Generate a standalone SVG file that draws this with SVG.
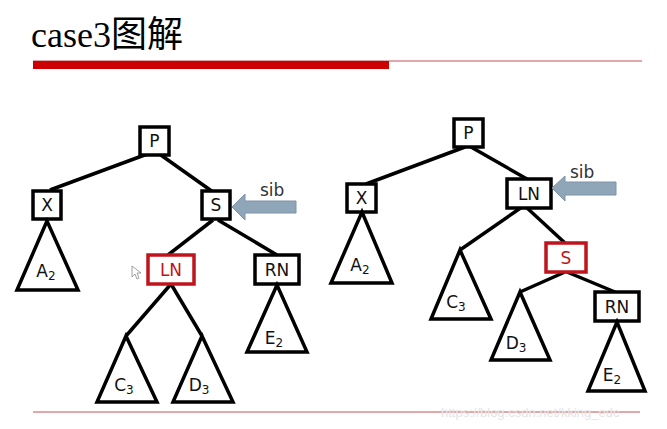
<svg xmlns="http://www.w3.org/2000/svg" width="667" height="429" viewBox="0 0 667 429">
<style>
.bx{fill:#fff;stroke:#000;stroke-width:3.5}
.red{fill:#fff;stroke:#c0141c;stroke-width:3.5}
.tri{fill:#fff;stroke:#000;stroke-width:3.5;stroke-linejoin:miter}
.ln{stroke:#000;stroke-width:3.5;fill:none}
.t{font-family:"DejaVu Sans","Liberation Sans",sans-serif;font-size:17px;fill:#111;text-anchor:middle}
.tr{font-family:"DejaVu Sans","Liberation Sans",sans-serif;font-size:17px;fill:#c0141c;text-anchor:middle}
.s{font-size:12px}
.arr{fill:#8fa6b9;stroke:#7d93a6;stroke-width:1}
.sib{font-family:"DejaVu Sans","Liberation Sans",sans-serif;font-size:17px;fill:#333}
</style>
<rect width="667" height="429" fill="#fff"/>
<g id="title">
<text x="31" y="47" font-family="'Liberation Serif','Noto Sans CJK SC',serif" font-size="36" fill="#000">case3图解</text>
<line x1="33" y1="61" x2="642" y2="61" stroke="#c05050" stroke-width="1"/>
<rect x="33" y="61" width="356" height="8" fill="#cc0000"/>
</g>
<g id="connectors">
<line class="ln" x1="150" y1="153" x2="50" y2="190"/>
<line class="ln" x1="158" y1="153" x2="213" y2="192"/>
<line class="ln" x1="213" y1="220" x2="168" y2="255"/>
<line class="ln" x1="218" y1="220" x2="277" y2="255"/>
<line class="ln" x1="171" y1="284" x2="126" y2="336"/>
<line class="ln" x1="171" y1="284" x2="202" y2="336"/>
<line class="ln" x1="465" y1="147" x2="366" y2="184"/>
<line class="ln" x1="471" y1="147" x2="527" y2="179"/>
<line class="ln" x1="522" y1="207" x2="460" y2="250"/>
<line class="ln" x1="526" y1="207" x2="565" y2="243"/>
<line class="ln" x1="565" y1="272" x2="520" y2="292"/>
<line class="ln" x1="567" y1="272" x2="615" y2="292"/>
</g>
<g id="L_P"><rect class="bx" x="140" y="127" width="29" height="28"/><text class="t" x="154.5" y="147">P</text></g>
<g id="L_X"><rect class="bx" x="33" y="191" width="28" height="28"/><text class="t" x="47" y="211">X</text></g>
<g id="L_S"><rect class="bx" x="202" y="191" width="28" height="28"/><text class="t" x="216" y="211">S</text></g>
<g id="L_LN"><rect class="red" x="148" y="255" width="46" height="29"/><text class="tr" x="171" y="276">LN</text></g>
<g id="L_RN"><rect class="bx" x="255" y="255" width="44" height="29"/><text class="t" x="277" y="276">RN</text></g>
<g id="L_A2"><polygon class="tri" points="47,221 17,290 78,290"/><text class="t" x="46" y="277">A<tspan class="s" dy="3">2</tspan></text></g>
<g id="L_C3"><polygon class="tri" points="126,336 97,402 157,402"/><text class="t" x="124" y="391">C<tspan class="s" dy="3">3</tspan></text></g>
<g id="L_D3"><polygon class="tri" points="202,336 173,402 233,402"/><text class="t" x="199" y="391">D<tspan class="s" dy="3">3</tspan></text></g>
<g id="L_E2"><polygon class="tri" points="277,285 247,352 307,352"/><text class="t" x="274" y="344">E<tspan class="s" dy="3">2</tspan></text></g>
<g id="L_sib"><polygon class="arr" points="232,207 245,194 245,201 296,201 296,213 245,213 245,220"/><text class="sib" x="260" y="196">sib</text></g>
<g id="cursor"><polygon points="132,266 132,277 135,274 137,279 139,278 137,273 141,273" fill="#fff" stroke="#888" stroke-width="0.8"/></g>
<g id="R_P"><rect class="bx" x="454" y="119" width="29" height="28"/><text class="t" x="468.5" y="139">P</text></g>
<g id="R_X"><rect class="bx" x="347" y="184" width="29" height="28"/><text class="t" x="361.5" y="204">X</text></g>
<g id="R_LN"><rect class="bx" x="507" y="179" width="44" height="29"/><text class="t" x="529" y="200">LN</text></g>
<g id="R_S"><rect class="red" x="546" y="243" width="40" height="29"/><text class="tr" x="566" y="264">S</text></g>
<g id="R_RN"><rect class="bx" x="595" y="292" width="44" height="29"/><text class="t" x="617" y="313">RN</text></g>
<g id="R_A2"><polygon class="tri" points="362,212 331,283 392,283"/><text class="t" x="360" y="271">A<tspan class="s" dy="3">2</tspan></text></g>
<g id="R_C3"><polygon class="tri" points="460,250 431,319 491,319"/><text class="t" x="456" y="308">C<tspan class="s" dy="3">3</tspan></text></g>
<g id="R_D3"><polygon class="tri" points="520,292 491,360 550,360"/><text class="t" x="516" y="349">D<tspan class="s" dy="3">3</tspan></text></g>
<g id="R_E2"><polygon class="tri" points="617,322 588,391 645,391"/><text class="t" x="612" y="381">E<tspan class="s" dy="3">2</tspan></text></g>
<g id="R_sib"><polygon class="arr" points="552,188 565,176 565,182 616,182 616,195 565,195 565,201"/><text class="sib" x="570" y="178">sib</text></g>
<g id="footer">
<line x1="33" y1="412" x2="640" y2="412" stroke="#c05050" stroke-width="1"/>
<text x="441" y="417" font-family="'Liberation Sans',sans-serif" font-size="13" fill="#e4e4e4">https://blog.csdn.net/kking_edc</text>
</g>
</svg>
